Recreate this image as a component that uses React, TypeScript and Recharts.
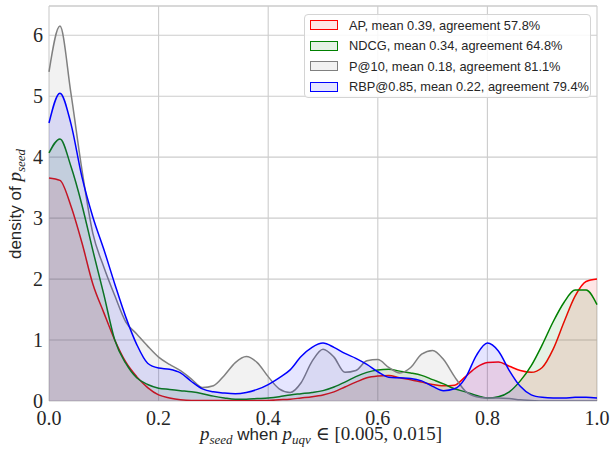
import {
  Area,
  AreaChart,
  CartesianGrid,
  Label,
  Legend,
  ReferenceLine,
  XAxis,
  YAxis,
} from "recharts";

// p_seed grid (x positions of the density estimates)
const xs = [
  0, 0.02, 0.04, 0.06, 0.08, 0.1, 0.12, 0.14, 0.16, 0.18, 0.2,
  0.22, 0.24, 0.26, 0.28, 0.3, 0.32, 0.34, 0.36, 0.38, 0.4,
  0.42, 0.44, 0.46, 0.48, 0.5, 0.52, 0.54, 0.56, 0.58, 0.6,
  0.62, 0.64, 0.66, 0.68, 0.7, 0.72, 0.74, 0.76, 0.78, 0.8,
  0.82, 0.84, 0.86, 0.88, 0.9, 0.92, 0.94, 0.96, 0.98, 1.0,
];

const ap = [
  3.66, 3.62, 3.2, 2.6, 1.92, 1.45, 1.0, 0.64, 0.4, 0.22, 0.1,
  0.05, 0.02, 0.01, 0.01, 0.01, 0.01, 0.01, 0.01, 0.01, 0.01,
  0.02, 0.03, 0.05, 0.07, 0.1, 0.15, 0.23, 0.31, 0.38, 0.41,
  0.42, 0.38, 0.35, 0.31, 0.27, 0.25, 0.26, 0.4, 0.55, 0.63,
  0.64, 0.57, 0.5, 0.47, 0.55, 0.85, 1.3, 1.72, 1.96, 2.0,
];

const ndcg = [
  4.07, 4.3, 3.85, 3.22, 2.47, 1.75, 1.0, 0.62, 0.38, 0.27, 0.21,
  0.19, 0.17, 0.15, 0.12, 0.08, 0.05, 0.03, 0.03, 0.04, 0.05,
  0.07, 0.1, 0.12, 0.14, 0.17, 0.23, 0.31, 0.4, 0.47, 0.51,
  0.52, 0.49, 0.46, 0.42, 0.35, 0.28, 0.2, 0.15, 0.09, 0.05,
  0.07, 0.15, 0.33, 0.58, 0.92, 1.3, 1.62, 1.82, 1.82, 1.58,
];

const p10 = [
  5.4, 6.15, 5.05, 3.8, 2.75, 2.2, 1.73, 1.3, 1.1, 0.9, 0.72,
  0.6, 0.5, 0.36, 0.22, 0.25, 0.42, 0.63, 0.73, 0.63, 0.4,
  0.2, 0.14, 0.3, 0.65, 0.85, 0.72, 0.47, 0.5, 0.66, 0.68,
  0.55, 0.46, 0.55, 0.77, 0.83, 0.68, 0.4, 0.16, 0.07, 0.05,
  0.05, 0.04, 0.02, 0.01, 0, 0, 0, 0, 0, 0,
];

const rbp = [
  4.56, 5.05, 4.55, 3.68, 3.02, 2.49, 1.92, 1.38, 0.93, 0.62, 0.54,
  0.52, 0.46, 0.32, 0.2, 0.15, 0.13, 0.12, 0.14, 0.19, 0.27,
  0.38, 0.51, 0.73, 0.88, 0.95, 0.88, 0.78, 0.7, 0.6, 0.48,
  0.39, 0.38, 0.37, 0.33, 0.24, 0.17, 0.2, 0.38, 0.75, 0.95,
  0.82, 0.5, 0.24, 0.1, 0.06, 0.05, 0.05, 0.06, 0.06, 0.05,
];

const xTicks = [0, 0.2, 0.4, 0.6, 0.8, 1.0];
const yTicks = [0, 1, 2, 3, 4, 5, 6];

const series = [
  { key: "ap", color: "#ff0000", label: "AP, mean 0.39, agreement 57.8%" },
  { key: "ndcg", color: "#008000", label: "NDCG, mean 0.34, agreement 64.8%" },
  { key: "p10", color: "#808080", label: "P@10, mean 0.18, agreement 81.1%" },
  { key: "rbp", color: "#0000ff", label: "RBP@0.85, mean 0.22, agreement 79.4%" },
];

const data = xs.map((x, i) => ({
  x,
  ap: ap[i],
  ndcg: ndcg[i],
  p10: p10[i],
  rbp: rbp[i],
}));

const SERIF = "'Liberation Serif', 'DejaVu Serif', serif";
const SANS = "'Liberation Sans', Arial, sans-serif";
const INK = "#262626";

function XTitle() {
  return (
    <text x={321} y={440} textAnchor="middle" fill={INK} fontSize={19} fontFamily={SERIF}>
      <tspan fontStyle="italic">p</tspan>
      <tspan fontStyle="italic" fontSize={13} dy={4}>seed</tspan>
      <tspan fontFamily={SANS} fontSize={17} dy={-4}> when </tspan>
      <tspan fontStyle="italic">p</tspan>
      <tspan fontStyle="italic" fontSize={13} dy={4}>uqv</tspan>
      <tspan dy={-4}> ∈ [0.005, 0.015]</tspan>
    </text>
  );
}

function YTitle() {
  return (
    <text
      x={0}
      y={0}
      transform="translate(21, 204) rotate(-90)"
      textAnchor="middle"
      fill={INK}
      fontSize={17}
      fontFamily={SANS}
    >
      <tspan>density of </tspan>
      <tspan fontFamily={SERIF} fontStyle="italic" fontSize={19}>p</tspan>
      <tspan fontFamily={SERIF} fontStyle="italic" fontSize={13} dy={4}>seed</tspan>
    </text>
  );
}

function LegendBox() {
  return (
    <div
      style={{
        background: "rgba(255,255,255,0.85)",
        border: "1px solid #d4d4d4",
        borderRadius: 4,
        width: 285,
        height: 82,
        fontFamily: SANS,
        fontSize: 12.8,
        color: INK,
        boxSizing: "content-box",
      }}
    >
      {series.map((s) => (
        <div key={s.key} style={{ display: "flex", alignItems: "center", height: 20.5 }}>
          <span
            style={{
              display: "inline-block",
              width: 26,
              height: 8,
              marginLeft: 5,
              marginRight: 11,
              border: `1.3px solid ${s.color}`,
              background: s.color + "1a",
            }}
          />
          <span>{s.label}</span>
        </div>
      ))}
    </div>
  );
}

export default function App() {
  return (
    <div style={{ position: "absolute", left: 0, top: 0, width: 612, height: 458, background: "#fff" }}>
      <AreaChart width={612} height={458} data={data} margin={{ top: 6, right: 15, bottom: 27, left: 0 }}>
        <CartesianGrid stroke="#cccccc" strokeWidth={1.1} />
        <ReferenceLine y={6.48} stroke="#cccccc" strokeWidth={1.1} />
        <XAxis
          dataKey="x"
          type="number"
          domain={[0, 1]}
          ticks={xTicks}
          tickFormatter={(v) => Number(v).toFixed(1)}
          tick={{ fill: INK, fontSize: 20, fontFamily: SERIF }}
          axisLine={false}
          tickLine={false}
          tickSize={6}
          tickMargin={4}
          height={30}
        >
          <Label content={XTitle} />
        </XAxis>
        <YAxis
          type="number"
          domain={[0, 6.48]}
          ticks={yTicks}
          tickFormatter={(v) => String(v)}
          tick={{ fill: INK, fontSize: 20, fontFamily: SERIF }}
          axisLine={false}
          tickLine={false}
          tickSize={6}
          tickMargin={0}
          width={49}
          allowDataOverflow
        >
          <Label content={YTitle} />
        </YAxis>
        {series.map((s) => (
          <Area
            key={s.key}
            type="monotone"
            dataKey={s.key}
            stroke={s.color}
            strokeWidth={1.5}
            fill={s.color}
            fillOpacity={0.1}
            dot={false}
            activeDot={false}
            isAnimationActive={false}
          />
        ))}
        <Legend
          layout="vertical"
          align="center"
          verticalAlign="middle"
          content={LegendBox}
          wrapperStyle={{ left: 304, top: 14, width: 287, height: 84 }}
        />
      </AreaChart>
    </div>
  );
}
